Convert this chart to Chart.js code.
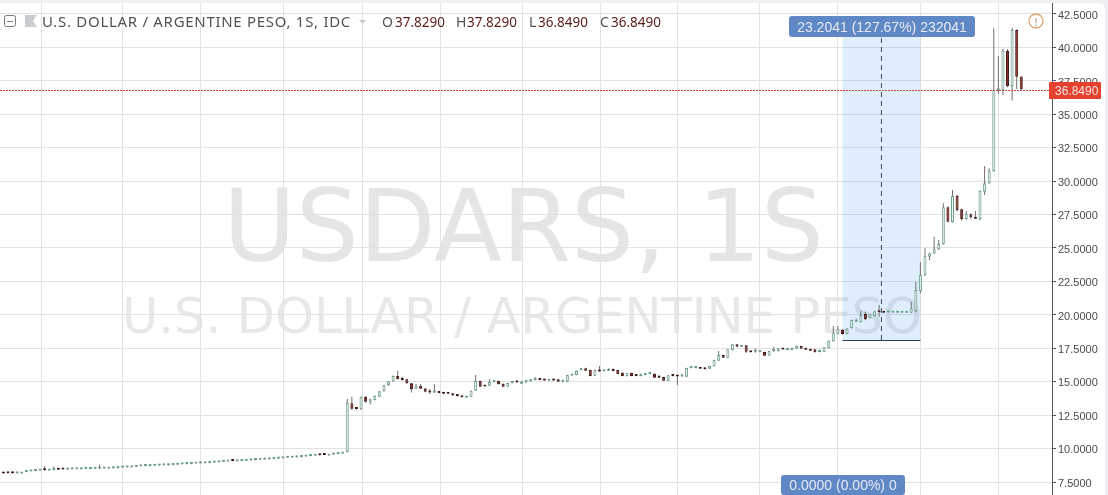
<!DOCTYPE html>
<html>
<head>
<meta charset="utf-8">
<title>USDARS, 1S</title>
<script src="https://cdn.jsdelivr.net/npm/chart.js@4"></script>
<style>
  html, body { margin: 0; padding: 0; background: #eef0f3; }
  canvas { display: block; }
</style>
</head>
<body>
<canvas id="grafico" width="1108" height="495"></canvas>
<script>
const opens = [
  8.14,8.16,8.19,8.15,8.14,8.25,8.31,8.33,8.36,8.44,
  8.36,8.40,8.45,8.46,8.43,8.45,8.45,8.46,8.48,8.48,
  8.50,8.50,8.51,8.51,8.53,8.54,8.58,8.60,8.61,8.65,
  8.68,8.70,8.70,8.71,8.73,8.76,8.76,8.78,8.80,8.83,
  8.85,8.85,8.88,8.90,8.91,8.93,8.96,8.98,9.01,9.03,
  9.09,9.06,9.08,9.10,9.12,9.14,9.16,9.18,9.20,9.23,
  9.25,9.28,9.31,9.33,9.36,9.38,9.41,9.44,9.46,9.55,
  9.58,9.49,9.56,9.60,9.63,
  9.74,13.39,13.03,12.94,13.88,13.51,13.63,13.88,14.28,14.73,
  15.03,15.43,15.28,15.18,14.88,14.48,14.70,14.50,14.32,14.20,
  14.24,14.16,14.20,14.13,14.06,13.90,13.82,13.88,14.33,15.05,
  14.70,14.70,14.98,15.05,14.85,14.63,14.90,15.00,14.85,15.00,
  15.03,15.13,15.26,15.15,15.08,15.14,15.18,15.02,15.00,15.46,
  15.50,15.88,16.00,15.88,15.45,15.88,15.78,15.82,15.95,15.88,
  15.67,15.43,15.65,15.50,15.43,15.50,15.58,15.60,15.38,15.35,
  15.08,15.49,15.46,15.40,15.38,16.03,16.03,16.03,16.03,15.97,
  16.15,16.57,17.00,16.80,17.37,17.80,17.62,17.72,17.26,17.25,
  17.22,17.22,16.97,17.30,17.28,17.47,17.38,17.37,17.47,17.67,
  17.52,17.42,17.42,17.22,17.25,17.50,18.02,18.55,18.87,18.57,
  19.00,19.48,19.45,20.07,19.74,19.91,20.27,20.20,20.20,20.18,
  20.15,20.15,20.15,20.16,20.29,21.78,22.96,24.35,24.60,24.90,
  25.28,28.04,26.95,28.89,27.90,27.17,27.52,27.30,27.17,29.21,
  29.84,30.76,36.80,36.82,39.73,37.12,41.30,37.829
];
const highs = [
  8.16,8.18,8.21,8.19,8.22,8.29,8.35,8.37,8.40,8.70,
  8.40,8.68,8.47,8.48,8.47,8.49,8.49,8.49,8.52,8.52,
  8.54,8.82,8.55,8.58,8.57,8.58,8.62,8.64,8.65,8.69,
  8.72,8.74,8.74,8.75,8.77,8.80,8.80,8.82,8.84,8.87,
  8.89,8.89,8.92,8.94,8.95,8.97,9.00,9.02,9.05,9.07,
  9.11,9.10,9.12,9.14,9.16,9.18,9.20,9.22,9.24,9.27,
  9.29,9.32,9.35,9.37,9.40,9.42,9.45,9.48,9.50,9.57,
  9.60,9.57,9.60,9.64,9.67,
  13.71,13.88,13.10,13.90,13.92,13.72,13.97,14.30,14.76,15.06,
  15.46,15.82,15.38,15.22,14.90,14.83,14.83,14.55,14.47,14.83,
  14.27,14.20,14.22,14.15,14.08,13.92,13.90,14.35,15.50,15.08,
  14.72,15.18,15.05,15.07,14.87,14.92,14.96,15.15,15.05,15.10,
  15.20,15.33,15.30,15.17,15.18,15.16,15.20,15.13,15.52,15.57,
  15.84,15.97,16.05,15.90,15.90,16.18,15.87,16.00,15.98,15.90,
  15.70,15.67,15.67,15.52,15.60,15.60,15.75,15.62,15.50,15.37,
  15.50,15.51,15.50,15.60,16.05,16.18,16.18,16.05,16.05,16.20,
  16.64,17.30,17.02,17.44,17.82,17.82,17.70,17.74,17.28,17.50,
  17.27,17.24,17.32,17.62,17.52,17.49,17.47,17.54,17.69,17.69,
  17.54,17.44,17.44,17.39,17.59,18.09,19.17,19.17,18.95,18.99,
  19.64,19.70,20.31,20.24,20.06,20.29,20.74,20.22,20.26,20.22,
  20.19,20.19,20.19,20.98,22.48,23.93,24.98,24.65,25.85,25.60,
  28.34,28.10,29.34,29.00,27.95,27.77,27.60,27.77,29.30,31.13,
  30.96,41.43,39.36,39.88,39.88,41.45,41.35,37.829
];
const lows = [
  8.11,8.13,8.13,8.13,8.12,8.23,8.29,8.31,8.34,8.36,
  8.34,8.38,8.40,8.42,8.41,8.43,8.43,8.44,8.46,8.46,
  8.48,8.48,8.49,8.47,8.51,8.52,8.56,8.58,8.59,8.63,
  8.66,8.68,8.68,8.69,8.71,8.74,8.74,8.76,8.78,8.81,
  8.83,8.83,8.86,8.88,8.89,8.91,8.94,8.96,8.99,9.01,
  9.05,9.04,9.06,9.08,9.10,9.12,9.14,9.16,9.18,9.21,
  9.23,9.26,9.29,9.31,9.34,9.36,9.39,9.42,9.44,9.48,
  9.51,9.47,9.54,9.58,9.61,
  9.70,12.88,12.92,12.90,13.45,13.30,13.60,13.85,14.25,14.70,
  15.00,15.18,15.10,14.85,14.20,14.45,14.45,14.22,14.08,14.15,
  14.13,14.07,14.08,13.95,13.90,13.82,13.80,13.85,14.30,14.60,
  14.62,14.68,14.96,14.79,14.61,14.61,14.88,14.92,14.83,14.90,
  15.01,15.11,15.11,15.08,15.06,15.08,14.98,14.95,14.98,15.44,
  15.48,15.86,15.80,15.41,15.43,15.74,15.76,15.80,15.78,15.56,
  15.41,15.41,15.41,15.41,15.41,15.48,15.56,15.28,15.28,15.06,
  15.06,15.40,14.75,15.38,15.36,16.01,16.01,15.95,15.91,15.95,
  16.13,16.55,16.78,16.78,17.35,17.60,17.60,17.15,17.18,17.17,
  17.20,16.93,16.95,17.25,17.26,17.39,17.36,17.35,17.45,17.45,
  17.37,17.30,17.18,17.20,17.23,17.48,18.00,18.53,18.52,18.55,
  18.98,19.46,19.43,19.60,19.72,19.89,19.86,20.13,20.18,20.16,
  20.13,20.13,20.13,20.14,20.20,21.61,22.90,24.10,24.55,24.85,
  25.25,26.92,26.90,27.72,27.04,27.12,27.17,27.15,27.07,28.97,
  29.80,30.70,36.52,36.44,37.02,36.02,36.89,36.849
];
const closes = [
  8.13,8.15,8.15,8.17,8.20,8.27,8.33,8.35,8.38,8.38,
  8.38,8.42,8.42,8.44,8.45,8.47,8.47,8.47,8.50,8.50,
  8.52,8.52,8.53,8.53,8.55,8.56,8.60,8.62,8.63,8.67,
  8.70,8.72,8.72,8.73,8.75,8.78,8.78,8.80,8.82,8.85,
  8.87,8.87,8.90,8.92,8.93,8.95,8.98,9.00,9.03,9.05,
  9.07,9.08,9.10,9.12,9.14,9.16,9.18,9.20,9.22,9.25,
  9.27,9.30,9.33,9.35,9.38,9.40,9.43,9.46,9.48,9.50,
  9.53,9.55,9.58,9.62,9.65,
  13.41,12.98,12.96,13.88,13.51,13.69,13.93,14.28,14.73,15.03,
  15.43,15.20,15.13,14.88,14.43,14.70,14.48,14.25,14.20,14.30,
  14.16,14.10,14.10,13.98,13.93,13.84,13.88,14.33,15.05,14.63,
  14.65,15.00,15.02,14.81,14.63,14.90,14.94,14.94,15.03,15.03,
  15.18,15.26,15.13,15.10,15.16,15.10,15.00,15.06,15.50,15.55,
  15.82,15.95,15.82,15.43,15.88,15.76,15.85,15.90,15.80,15.58,
  15.43,15.65,15.43,15.43,15.52,15.58,15.62,15.30,15.30,15.08,
  15.48,15.42,15.40,15.46,16.03,16.06,16.06,15.97,15.93,16.18,
  16.62,17.00,16.80,17.42,17.80,17.62,17.68,17.24,17.20,17.30,
  17.25,16.95,17.30,17.35,17.50,17.41,17.45,17.52,17.67,17.47,
  17.39,17.32,17.20,17.37,17.57,18.07,18.62,18.92,18.57,18.97,
  19.62,19.54,19.99,19.67,20.04,20.27,20.20,20.15,20.24,20.20,
  20.17,20.17,20.17,20.49,21.86,22.98,24.40,24.60,24.90,25.30,
  28.04,26.97,28.89,27.84,27.17,27.54,27.30,27.19,29.26,29.84,
  30.78,36.82,36.95,39.76,37.12,41.30,37.81,36.849
];
const priceTicks = [7.5,10,12.5,15,17.5,20,22.5,25,27.5,30,32.5,35,37.5,40,42.5];
const monthTicks = [8.4,26,43,61,78.4,95.4,113.3,130.3,147,165,182,200,217];
const measureFrom = 183, measureTo = 200;
const measureLow = 18.12, measureHigh = 41.32;
const lastPrice = 36.849;

const candles = opens.map((o, i) => i);
const bodies = candles.map(i => ({ x: i, y: [opens[i], closes[i]] }));
const wicks = candles.map(i => ({ x: i, y: [lows[i], highs[i]] }));
const isUp = i => closes[i] >= opens[i];

function text(c, str, x, y, font, color, align) {
  c.font = font;
  c.fillStyle = color;
  c.textAlign = align || 'left';
  c.textBaseline = 'alphabetic';
  c.fillText(str, x, y);
}

function tag(c, x, y, w, h, r, color) {
  c.fillStyle = color;
  c.beginPath();
  c.roundRect(x, y, w, h, r);
  c.fill();
}

// fundo branco e marca d'agua ficam por baixo da grade, faixa azul por baixo das velas
const background = {
  id: 'background',
  beforeDraw(chart) {
    const c = chart.ctx;
    c.save();
    tag(c, 0, 3, 1105, 492, [0, 6, 0, 0], '#ffffff');
    text(c, 'USDARS, 1S', 223, 261, '99.5px "DejaVu Sans"', '#e5e5e5');
    text(c, 'U.S. DOLLAR / ARGENTINE PESO', 122, 333, '49.5px "DejaVu Sans"', '#e8e8e8');
    c.restore();
  },
  beforeDatasetsDraw(chart) {
    const c = chart.ctx;
    const { x, y } = chart.scales;
    c.save();
    const left = x.getPixelForValue(measureFrom);
    const right = x.getPixelForValue(measureTo);
    const top = y.getPixelForValue(measureHigh);
    const bottom = y.getPixelForValue(measureLow);
    c.fillStyle = 'rgba(33,140,240,0.15)';
    c.fillRect(left, top, right - left, bottom - top);

    const mid = x.getPixelForValue((measureFrom + measureTo) / 2);
    c.strokeStyle = '#3b4a5c';
    c.lineWidth = 1;
    c.setLineDash([5, 4]);
    c.beginPath();
    c.moveTo(mid, bottom);
    c.lineTo(mid, top);
    c.stroke();
    c.setLineDash([]);
    c.strokeStyle = '#2c3e5a';
    c.beginPath();
    c.moveTo(left, Math.round(bottom) + 0.5);
    c.lineTo(right, Math.round(bottom) + 0.5);
    c.stroke();
    c.restore();
  },
  afterDraw(chart) {
    const c = chart.ctx;
    const py = chart.scales.y.getPixelForValue(lastPrice);
    c.save();

    // linha do ultimo preco
    c.strokeStyle = '#d9483a';
    c.lineWidth = 1;
    c.setLineDash([2, 1]);
    c.beginPath();
    c.moveTo(0, Math.round(py) + 0.5);
    c.lineTo(1050, Math.round(py) + 0.5);
    c.stroke();
    c.setLineDash([]);
    tag(c, 1049, 82, 52, 17, 1, '#e5412f');
    text(c, lastPrice.toFixed(4), 1055, 94.5, '12px "Liberation Sans"', '#fbe3df');

    // etiquetas da medicao
    tag(c, 789, 16, 186, 21, 3, '#6088c4');
    text(c, '23.2041 (127.67%) 232041', 882, 32, '14px "Liberation Sans"', '#e2eaf6', 'center');
    tag(c, 781, 475, 124, 20, 3, '#6088c4');
    text(c, '0.0000 (0.00%) 0', 843, 490, '14px "Liberation Sans"', '#e2eaf6', 'center');

    // aviso laranja
    c.strokeStyle = '#e3a46f';
    c.lineWidth = 1.3;
    c.beginPath();
    c.arc(1036, 21, 7, 0, Math.PI * 2);
    c.stroke();
    text(c, '!', 1036, 25.5, 'bold 11px "Liberation Sans"', '#c9b9a4', 'center');

    // cabecalho
    c.strokeStyle = '#77797c';
    c.lineWidth = 1;
    c.beginPath();
    c.roundRect(4.5, 15.5, 11, 11, 2);
    c.moveTo(7, 21.5);
    c.lineTo(13, 21.5);
    c.stroke();
    c.fillStyle = '#c9ccd0';
    c.beginPath();
    c.moveTo(25, 15);
    c.lineTo(37, 15);
    c.lineTo(33, 21);
    c.lineTo(37, 27);
    c.lineTo(25, 27);
    c.closePath();
    c.fill();
    c.letterSpacing = '0.7px';
    text(c, 'U.S. DOLLAR / ARGENTINE PESO, 1S, IDC', 42, 27, '15px "Noto Sans"', '#505356');
    c.letterSpacing = '0px';
    c.fillStyle = '#c4c6c8';
    c.beginPath();
    c.moveTo(359, 20);
    c.lineTo(366, 20);
    c.lineTo(362.5, 23.5);
    c.closePath();
    c.fill();
    const ohlc = [['O', 382, 395, '37.8290'], ['H', 456, 467, '37.8290'], ['L', 529, 538, '36.8490'], ['C', 600, 611, '36.8490']];
    ohlc.forEach(item => {
      text(c, item[0], item[1], 27, '14px "Noto Sans"', '#505356');
      text(c, item[3], item[2], 27, '13.5px "Noto Sans"', '#5c1d1a');
    });
    c.restore();
  }
};

new Chart(document.getElementById('grafico'), {
  type: 'bar',
  data: {
    datasets: [
      {
        label: 'Corpo',
        data: bodies,
        barThickness: 3,
        minBarLength: 2,
        borderWidth: 1,
        borderSkipped: false,
        inflateAmount: 0,
        backgroundColor: ctx => isUp(ctx.dataIndex) ? '#eef6f2' : '#8a2a22',
        borderColor: ctx => isUp(ctx.dataIndex) ? '#6b9f8c' : '#3f1a16'
      },
      {
        label: 'Pavio',
        data: wicks,
        barThickness: 1,
        borderWidth: 0,
        inflateAmount: 0,
        backgroundColor: '#6d706f'
      }
    ]
  },
  plugins: [background],
  options: {
    responsive: false,
    animation: false,
    layout: { padding: { top: 3, right: 0, bottom: 0, left: 0 } },
    datasets: { bar: { grouped: false } },
    plugins: { legend: { display: false }, tooltip: { enabled: false } },
    scales: {
      x: {
        type: 'linear',
        offset: false,
        min: -0.74,
        max: 228.7,
        afterBuildTicks: axis => { axis.ticks = monthTicks.map(value => ({ value })); },
        afterFit: axis => { axis.height = 0; axis.paddingLeft = 0; axis.paddingRight = 0; },
        ticks: { display: false },
        border: { display: false },
        grid: { color: '#e2e2e2', drawTicks: false, offset: false }
      },
      y: {
        position: 'right',
        min: 6.53,
        max: 43.32,
        afterBuildTicks: axis => { axis.ticks = priceTicks.map(value => ({ value })); },
        afterFit: axis => { axis.width = 56; axis.paddingTop = 0; axis.paddingBottom = 0; },
        ticks: {
          color: '#4a4a4a',
          padding: 2,
          // linha vazia antes do texto desce o rotulo um pouco abaixo da grade
          font: { family: '"Liberation Sans"', size: 11, lineHeight: 0.3 },
          callback: value => ['', value.toFixed(4)]
        },
        border: { display: true, color: '#555555' },
        grid: { color: '#e2e2e2', tickColor: '#555555', tickLength: 4 }
      }
    }
  }
});
</script>
</body>
</html>
